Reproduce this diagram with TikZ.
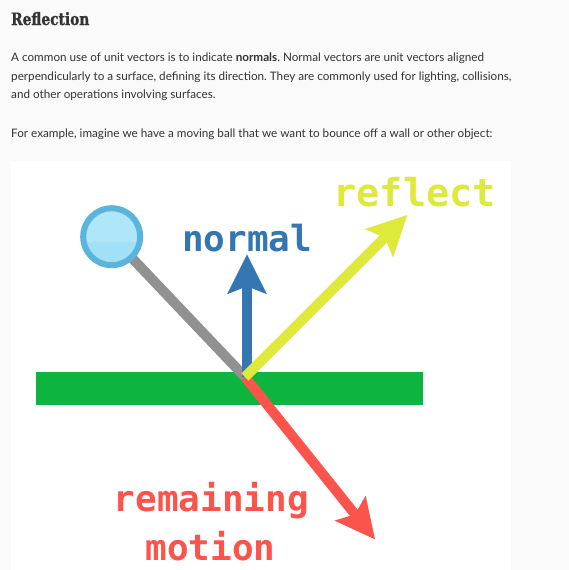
\documentclass[tikz,border=0pt]{standalone}
\usepackage{fontspec}
\setmainfont{Lato}
\newfontfamily\titlefont[FakeStretch=0.81, BoldFeatures={FakeBold=1.2}]{DejaVu Serif}
\newfontfamily\labelfont{DejaVu Sans Mono}
\usetikzlibrary{calc}
\definecolor{pagebg}{RGB}{250,250,250}
\definecolor{bodytext}{RGB}{51,51,51}
\definecolor{wallgreen}{RGB}{13,181,64}
\definecolor{nblue}{RGB}{52,118,178}
\definecolor{ryellow}{RGB}{222,233,60}
\definecolor{mred}{RGB}{250,84,76}
\definecolor{pathgray}{RGB}{145,145,145}
\definecolor{ballfill}{RGB}{162,224,248}
\definecolor{ballhi}{RGB}{176,230,250}
\definecolor{ballrim}{RGB}{90,180,220}
\tikzset{
  bodyline/.style={anchor=base west, inner sep=0pt, text=bodytext, font=\fontsize{11.7}{11.7}\selectfont},
  lbl/.style={inner sep=0pt, font=\labelfont\bfseries\fontsize{36}{36}\selectfont},
  shaft/.style={line width=10pt},
}
\newcommand{\arrowhead}[3]{% color, tip, start
  \fill[#1] (#2) -- ($(#2)!44.7pt!26.57:(#3)$) -- ($(#2)!32pt!(#3)$) -- ($(#2)!44.7pt!-26.57:(#3)$) -- cycle;}
\frenchspacing
\begin{document}
\begin{tikzpicture}[x=1pt,y=-1pt]
\useasboundingbox (0,0) rectangle (569,570);
\fill[pagebg] (0,0) rectangle (569,570);
% text
\node[anchor=base west, inner sep=0pt, text=bodytext, font=\titlefont\bfseries\fontsize{17}{17}\selectfont] (title) at (11,25) {Reflection};
\node[bodyline] (l1) at (11,61.3) {A common use of unit vectors is to indicate \textbf{normals}. Normal vectors are unit vectors aligned};
\node[bodyline] (l2) at (11,80) {perpendicularly to a surface, defining its direction. They are commonly used for lighting, collisions,};
\node[bodyline] (l3) at (11,98.5) {and other operations involving surfaces.};
\node[bodyline] (l4) at (11,137.3) {For example, imagine we have a moving ball that we want to bounce off a wall or other object:};
% image area
\fill[white] (11,161) rectangle (511,570);
% wall
\fill[wallgreen] (36,372) rectangle (423,405);
% key points
\coordinate (P) at (245,377);
\coordinate (Pb) at (247,377);
\coordinate (B) at (111.7,236.7);
\coordinate (Ntip) at (247,254.3);
\coordinate (Rtip) at (407.3,215);
\coordinate (Mtip) at (375,539.3);
% remaining motion (red)
\draw[shaft, mred] (P) -- ($(Mtip)!30pt!(P)$);
\arrowhead{mred}{Mtip}{P}
% incoming path (gray)
\draw[shaft, pathgray] (B) -- (P);
% normal (blue)
\draw[shaft, nblue] (Pb) -- ($(Ntip)!30pt!(Pb)$);
\arrowhead{nblue}{Ntip}{Pb}
% reflect (yellow)
\draw[shaft, ryellow] (P) -- ($(Rtip)!30pt!(P)$);
\arrowhead{ryellow}{Rtip}{P}
% ball
\node[circle, minimum size=59pt, inner sep=0pt, fill=ballfill, draw=ballrim, line width=4pt] (ball) at (B) {};
\begin{scope}
  \clip (B) circle (27.5pt);
  \fill[ballhi] ($(B)+(-30,-30)$) rectangle ($(B)+(30,5)$);
\end{scope}
\draw[ballrim, line width=4pt] (B) circle (27.5pt);
% labels
\node[lbl, text=nblue, anchor=base west] (normal) at (182,251.7) {normal};
\node[lbl, text=ryellow, anchor=base west, font=\labelfont\bfseries\fontsize{38.5}{38.5}\selectfont] (reflect) at (333.3,206.7) {reflect};
\node[lbl, text=mred, anchor=base] (remaining) at (211.3,511.7) {remaining};
\node[lbl, text=mred, anchor=base] (motion) at (210.5,560) {motion};
\end{tikzpicture}
\end{document}
